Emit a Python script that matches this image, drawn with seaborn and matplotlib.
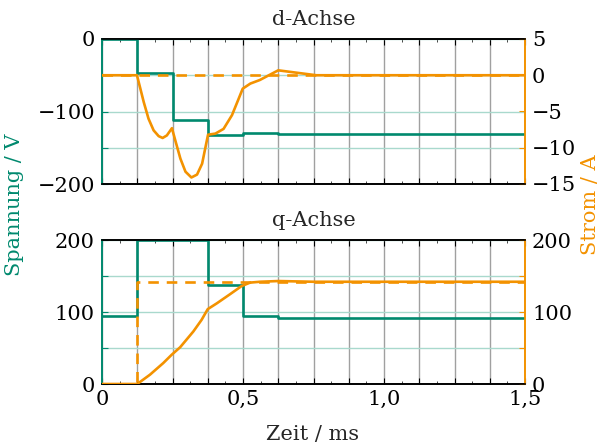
import numpy as np
import pandas as pd
import matplotlib
matplotlib.use("Agg")
import matplotlib.pyplot as plt
import seaborn as sns
from matplotlib.ticker import MultipleLocator, FuncFormatter, FixedLocator

# ---------------- data ----------------
# voltage samples (sample period 0.125 ms), held constant (step)
t_steps = [0, 0.125, 0.25, 0.375, 0.5, 0.625, 0.75, 0.875, 1.0, 1.125, 1.25, 1.375, 1.5]
u_d = [0, -47, -112, -132, -129, -131, -131, -131, -131, -131, -131, -131, -131]
u_q = [95, 200, 200, 137, 95, 91.5, 92.3, 92.3, 92.3, 92.3, 92.3, 92.3, 92.3]

# reference currents (step)
i_d_ref = [0, 0, 0, 0, 0, 0, 0, 0, 0, 0, 0, 0, 0]
i_q_ref = [0, 142, 142, 142, 142, 142, 142, 142, 142, 142, 142, 142, 142]

# measured currents
t_id = [0, 0.124, 0.136, 0.148, 0.165, 0.183, 0.201, 0.215, 0.230, 0.248,
        0.260, 0.278, 0.296, 0.317, 0.337, 0.355, 0.366, 0.376,
        0.402, 0.431, 0.461, 0.485, 0.499, 0.526, 0.56, 0.625, 0.7, 0.76, 1.5]
i_d = [0, 0, -1.85, -3.7, -6.0, -7.6, -8.4, -8.65, -8.3, -7.3,
       -9.0, -11.5, -13.3, -14.1, -13.7, -12.2, -10.1, -8.2,
       -8.05, -7.4, -5.5, -3.2, -1.85, -1.15, -0.65, 0.68, 0.3, 0, 0]

t_iq = [0, 0.125, 0.170, 0.217, 0.247, 0.277, 0.324, 0.353, 0.375, 0.407, 0.454,
        0.495, 0.525, 0.56, 0.625, 0.75, 1.5]
i_q = [0, 0, 12.9, 29, 40.6, 51, 73, 89, 104, 112, 124.7,
       136, 140.8, 142, 143, 142, 142]

GREEN = "#00896E"
ORANGE = "#F39200"
GRIDG = "#A9D9CD"
GRIDV = "#A0A0A0"

sns.set_theme(style="ticks")
plt.rcParams["font.family"] = ["DejaVu Serif", "Liberation Serif"]
plt.rcParams["axes.unicode_minus"] = True
FS = 15

fig = plt.figure(figsize=(6.04, 4.45), dpi=100)
W = 423 / 604
L = 102 / 604
ax1 = fig.add_axes([L, 1 - 184 / 445, W, 145 / 445])
ax2 = fig.add_axes([L, 1 - 384 / 445, W, 144 / 445])


def xfmt(v, p):
    if abs(v * 2 - round(v * 2)) > 1e-9:
        return ""
    if abs(v) < 1e-9:
        return "0"
    return ("%.1f" % v).replace(".", ",")


def style_axes(ax, axr, ylim_l, ylim_r, lmaj, lmin, rmaj, rmin, title):
    ax.set_xlim(0, 1.5)
    ax.set_ylim(*ylim_l)
    axr.set_ylim(*ylim_r)
    ax.xaxis.set_major_locator(MultipleLocator(0.125))
    ax.xaxis.set_minor_locator(MultipleLocator(0.0625))
    ax.xaxis.set_major_formatter(FuncFormatter(xfmt))
    ax.yaxis.set_major_locator(FixedLocator(lmaj))
    ax.yaxis.set_minor_locator(FixedLocator(lmin))
    axr.yaxis.set_major_locator(FixedLocator(rmaj))
    axr.yaxis.set_minor_locator(FixedLocator(rmin))
    ax.grid(True, axis="x", which="major", color=GRIDV, lw=1.0, zorder=0)
    ax.grid(True, axis="y", which="both", color=GRIDG, lw=1.0, zorder=0)
    ax.tick_params(axis="x", which="major", direction="in", length=4, width=0.8,
                   top=True, labelsize=FS, pad=4, colors="black")
    ax.tick_params(axis="x", which="minor", direction="in", length=2, width=0.6, top=True)
    ax.tick_params(axis="y", which="both", direction="in", length=4, width=0.8,
                   labelsize=FS, pad=5, color=GREEN, labelcolor="black")
    axr.tick_params(axis="y", which="both", direction="in", length=4, width=0.8,
                    labelsize=FS, pad=5, color=ORANGE, labelcolor="black")
    for a in (ax, axr):
        a.spines["top"].set_color("black")
        a.spines["bottom"].set_color("black")
        a.spines["left"].set_color(GREEN)
        a.spines["right"].set_color(ORANGE)
        for s in a.spines.values():
            s.set_visible(True)
            s.set_linewidth(1.2)
    ax.set_title(title, fontsize=FS, pad=10)
    ax.set_xlabel("")
    ax.set_ylabel("")
    axr.set_ylabel("")


lw = 1.9
# ---- d-axis ----
ax1r = ax1.twinx()
df_ud = pd.DataFrame({"t": t_steps, "u": u_d})
sns.lineplot(data=df_ud, x="t", y="u", ax=ax1, color=GREEN, lw=lw, drawstyle="steps-post", zorder=3)
df_idr = pd.DataFrame({"t": t_steps, "i": i_d_ref})
sns.lineplot(data=df_idr, x="t", y="i", ax=ax1r, color=ORANGE, lw=lw, ls=(0, (4, 3)), drawstyle="steps-post", zorder=3)
df_id = pd.DataFrame({"t": t_id, "i": i_d})
sns.lineplot(data=df_id, x="t", y="i", ax=ax1r, color=ORANGE, lw=lw, zorder=4)
style_axes(ax1, ax1r, (-200, 0), (-15, 5), [0, -100, -200], [-50, -150],
           [5, 0, -5, -10, -15], [], "d-Achse")
ax1.tick_params(axis="x", labelbottom=False)

# ---- q-axis ----
ax2r = ax2.twinx()
df_uq = pd.DataFrame({"t": t_steps, "u": u_q})
sns.lineplot(data=df_uq, x="t", y="u", ax=ax2, color=GREEN, lw=lw, drawstyle="steps-post", zorder=3)
df_iqr = pd.DataFrame({"t": t_steps, "i": i_q_ref})
sns.lineplot(data=df_iqr, x="t", y="i", ax=ax2r, color=ORANGE, lw=lw, ls=(0, (4, 3)), drawstyle="steps-post", zorder=3)
df_iq = pd.DataFrame({"t": t_iq, "i": i_q})
sns.lineplot(data=df_iq, x="t", y="i", ax=ax2r, color=ORANGE, lw=lw, zorder=4)
style_axes(ax2, ax2r, (0, 200), (0, 200), [0, 100, 200], [50, 150],
           [0, 100, 200], [50, 150], "q-Achse")

fig.text(313 / 604, 1 - 434 / 445, "Zeit / ms", ha="center", va="center", fontsize=FS)
fig.text(15 / 604, 1 - 205 / 445, "Spannung / V", ha="center", va="center",
         rotation=90, fontsize=FS, color=GREEN)
fig.text(590 / 604, 1 - 205 / 445, "Strom / A", ha="center", va="center",
         rotation=90, fontsize=FS, color=ORANGE)

fig.savefig("out.png", dpi=100)
